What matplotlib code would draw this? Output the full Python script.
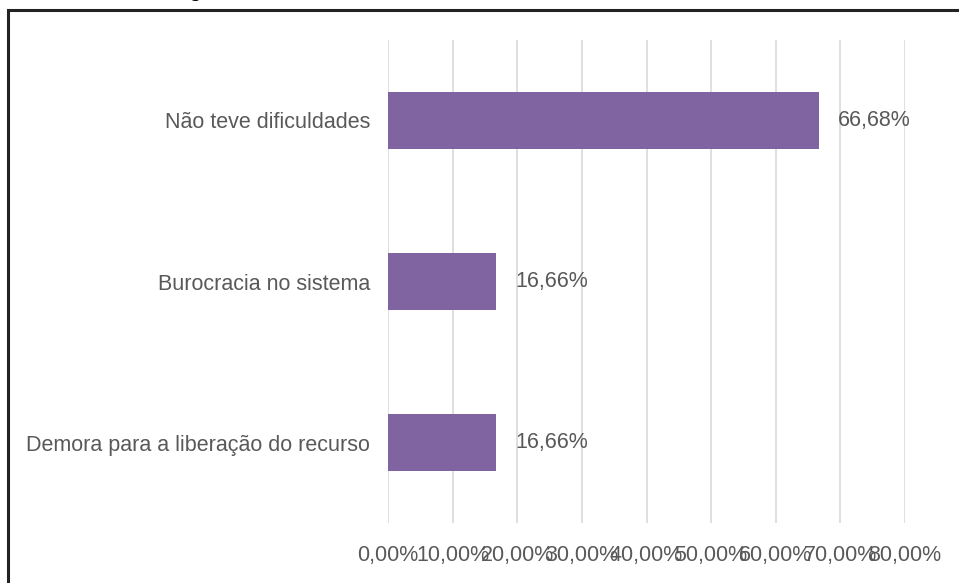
import numpy as np
import matplotlib
matplotlib.use("Agg")
import matplotlib.pyplot as plt
from matplotlib.patches import Rectangle
from matplotlib.ticker import FuncFormatter

categories = ["Demora para a liberação do recurso", "Burocracia no sistema", "Não teve dificuldades"]
values = [16.66, 16.66, 66.68]
x_ticks = [0, 10, 20, 30, 40, 50, 60, 70, 80]

plt.rcParams['font.family'] = ['Liberation Sans', 'DejaVu Sans']
TEXT_COLOR = "#595959"
BAR_COLOR = "#8064A2"

fig = plt.figure(figsize=(9.59, 5.83), dpi=100)
ax = fig.add_axes([388/959, 1 - 523/583, (905 - 388)/959, (523 - 40)/583])

y = np.arange(len(categories))
bars = ax.barh(y, values, height=0.355, color=BAR_COLOR, zorder=3)
ax.bar_label(bars, labels=[f"{v:.2f}%".replace(".", ",") for v in values],
             padding=14, fontsize=15.5, color=TEXT_COLOR)

ax.set_xlim(0, 80)
ax.set_ylim(-0.5, 2.5)
ax.set_xticks(x_ticks)
ax.xaxis.set_major_formatter(FuncFormatter(lambda v, p: f"{v:.2f}%".replace(".", ",")))
ax.set_yticks(y)
ax.set_yticklabels(categories)
ax.tick_params(axis="both", length=0, labelsize=15.5, labelcolor=TEXT_COLOR)
ax.tick_params(axis="y", pad=13)
ax.tick_params(axis="x", pad=16)
ax.grid(axis="x", color="#D9D9D9", linewidth=1.2, zorder=0)
for s in ax.spines.values():
    s.set_visible(False)

# outer frame of the cropped screenshot
fig.patches.append(Rectangle((8/959, -0.1), 1.2, 1 - 10/583 + 0.1, transform=fig.transFigure,
                             fill=False, edgecolor="#222222", linewidth=2.2))
# cut-off caption above the frame
fig.text(196/959, 1 - 1/583, "g", fontsize=17, color="black", ha="center", va="bottom",
         clip_on=False)

fig.savefig("out.png", dpi=100)
